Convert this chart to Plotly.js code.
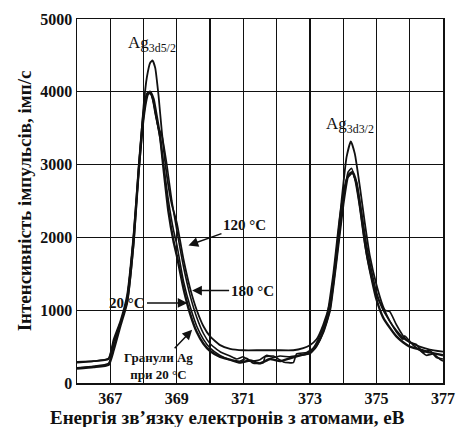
<!DOCTYPE html>
<html>
<head>
<meta charset="utf-8">
<script src="https://cdn.plot.ly/plotly-3.0.1.min.js"></script>
<style>html,body{margin:0;padding:0;background:#fff;}#chart{width:459px;height:427px;}</style>
</head>
<body>
<div id="chart"></div>
<script>
// Binding energy (eV) and intensity (imp/s) for each curve
const energyA = [366.0,366.5,366.95,367.1,367.3,367.5,367.7,367.85,368.0,368.1,368.2,368.27,368.35,368.45,368.55,368.7,368.85,369.0,369.2,369.4,369.6,369.8,370.0,370.3,370.6,371.0,371.5,372.0,372.5,372.8,373.0,373.2,373.4,373.6,373.8,373.95,374.1,374.23,374.35,374.5,374.65,374.8,375.0,375.2,375.4,375.6,375.8,376.0,376.3,376.6,377.0];
const intensA = [290,300,330,560,820,1100,1900,2900,3800,4200,4400,4430,4330,3950,3450,2850,2450,2200,1700,1300,1000,780,640,520,470,450,450,450,450,480,520,600,800,1100,1800,2500,3100,3320,3150,2700,2200,1750,1350,1050,850,720,620,560,500,460,430];

const energyB = [366.0,366.5,366.95,367.1,367.3,367.5,367.7,367.85,368.0,368.1,368.17,368.25,368.35,368.45,368.55,368.7,368.85,369.0,369.2,369.4,369.6,369.8,370.0,370.3,370.6,370.8,371.0,371.2,371.5,371.7,371.9,372.1,372.4,372.7,373.0,373.2,373.4,373.6,373.8,374.0,374.15,374.25,374.35,374.5,374.65,374.8,375.0,375.25,375.4,375.6,375.8,376.0,376.2,376.4,376.6,376.8,377.0];
const intensB = [210,230,270,500,800,1150,2000,2850,3600,3900,4000,3950,3700,3500,3400,3000,2500,2100,1600,1200,900,680,540,430,370,330,360,300,320,380,350,370,360,380,400,500,700,1000,1700,2500,2900,2950,2800,2400,1900,1550,1200,1000,980,800,650,560,530,420,450,350,330];

const energyC = [366.0,366.5,366.95,367.1,367.3,367.5,367.7,367.85,368.0,368.1,368.2,368.3,368.4,368.5,368.6,368.75,368.9,369.0,369.2,369.4,369.6,369.8,370.0,370.3,370.6,370.9,371.1,371.3,371.6,371.65,371.9,372.2,372.5,372.6,372.9,373.1,373.3,373.5,373.7,373.9,374.1,374.28,374.4,374.55,374.7,374.85,375.0,375.2,375.4,375.6,375.8,375.85,376.1,376.3,376.5,376.7,376.9,377.0];
const intensC = [280,300,340,600,850,1200,2050,2950,3700,3950,3980,3850,3600,3350,3000,2500,2100,1900,1400,1050,780,600,480,380,320,300,340,270,280,360,370,290,280,400,420,480,650,900,1500,2300,2800,2880,2750,2350,1900,1550,1250,1000,850,700,600,650,520,450,380,400,330,300];

const energyD = [366.0,366.5,366.95,367.1,367.3,367.5,367.7,367.85,368.0,368.1,368.2,368.3,368.4,368.5,368.6,368.75,368.9,369.0,369.2,369.4,369.6,369.8,370.0,370.3,370.6,370.9,371.2,371.5,371.8,372.1,372.4,372.7,373.0,373.2,373.4,373.6,373.8,374.0,374.15,374.28,374.4,374.55,374.7,374.85,375.0,375.2,375.4,375.6,375.8,376.0,376.3,376.6,377.0];
const intensD = [200,220,250,450,780,1100,1950,2900,3700,3970,4000,3900,3650,3380,2950,2350,1950,1750,1300,950,700,540,440,360,320,280,310,270,330,300,340,380,420,520,700,1000,1700,2450,2850,2900,2750,2300,1800,1450,1150,900,760,640,560,500,460,420,380];

const seriesNames = ['120 °C','180 °C','20 °C','Гранули Ag при 20 °C'];
const xTickVals = [367,369,371,373,375,377];
const yTickVals = [0,1000,2000,3000,4000,5000];

const serif = 'Liberation Serif, Times New Roman, serif';
const mk = (x,y,name,w) => ({x:x,y:y,name:name,type:'scatter',mode:'lines',line:{color:'#111',width:w,shape:'spline',smoothing:0.45},hoverinfo:'skip'});
const traces = [
  mk(energyA,intensA,seriesNames[0],1.8),
  mk(energyB,intensB,seriesNames[1],1.6),
  mk(energyC,intensC,seriesNames[2],1.6),
  mk(energyD,intensD,seriesNames[3],2.4)
];

const arrowAnn = (x,y,text,ax,ay,size) => ({x:x,y:y,xref:'x',yref:'y',text:text,showarrow:true,arrowhead:2,arrowsize:1.3,arrowwidth:1.5,arrowcolor:'#111',ax:ax,ay:ay,font:{family:serif,size:size,color:'#111'}});

const layout = {
  width:459,height:427,
  margin:{l:77,r:16,t:19,b:44},
  paper_bgcolor:'#fff',plot_bgcolor:'#fff',
  showlegend:false,
  font:{family:serif,color:'#111'},
  xaxis:{range:[366,377],tickmode:'array',tickvals:xTickVals,showgrid:true,gridcolor:'#111',gridwidth:1.3,
         minor:{tick0:366,dtick:1,showgrid:true,gridcolor:'#111',gridwidth:1.3,ticks:''},
         showline:true,linecolor:'#111',linewidth:1.5,mirror:true,zeroline:false,ticks:'',
         tickfont:{family:serif,size:16,color:'#111',weight:'bold'}},
  yaxis:{range:[0,5000],tickmode:'array',tickvals:yTickVals,showgrid:true,gridcolor:'#111',gridwidth:1.3,
         showline:true,linecolor:'#111',linewidth:1.5,mirror:true,zeroline:false,ticks:'',
         tickfont:{family:serif,size:16,color:'#111',weight:'bold'},
         title:{text:'<b>Інтенсивність імпульсів, імп/с</b>',font:{family:serif,size:19,color:'#111'},standoff:3}},
  annotations:[
    {x:368.25,y:4480,xref:'x',yref:'y',text:'Ag<sub>3d5/2</sub>',showarrow:false,yanchor:'bottom',font:{family:serif,size:17,color:'#111'}},
    {x:374.2,y:3370,xref:'x',yref:'y',text:'Ag<sub>3d3/2</sub>',showarrow:false,yanchor:'bottom',font:{family:serif,size:17,color:'#111'}},
    arrowAnn(369.35,1890,'<b>120 °C</b>',56,-20,15),
    arrowAnn(369.46,1270,'<b>180 °C</b>',60,0,15),
    arrowAnn(369.32,1100,'<b>20 °C</b>',-60,0,15),
    arrowAnn(369.46,730,'<b>Гранули Ag<br>при 20 °C</b>',-34,36,13),
    {x:0.41,y:0,xref:'paper',yref:'paper',yshift:-47,yanchor:'bottom',text:'<b>Енергія зв’язку електронів з атомами, еВ</b>',showarrow:false,font:{family:serif,size:19,color:'#111'}}
  ]
};
Plotly.newPlot('chart',traces,layout,{displayModeBar:false,staticPlot:true});
</script>
</body>
</html>
